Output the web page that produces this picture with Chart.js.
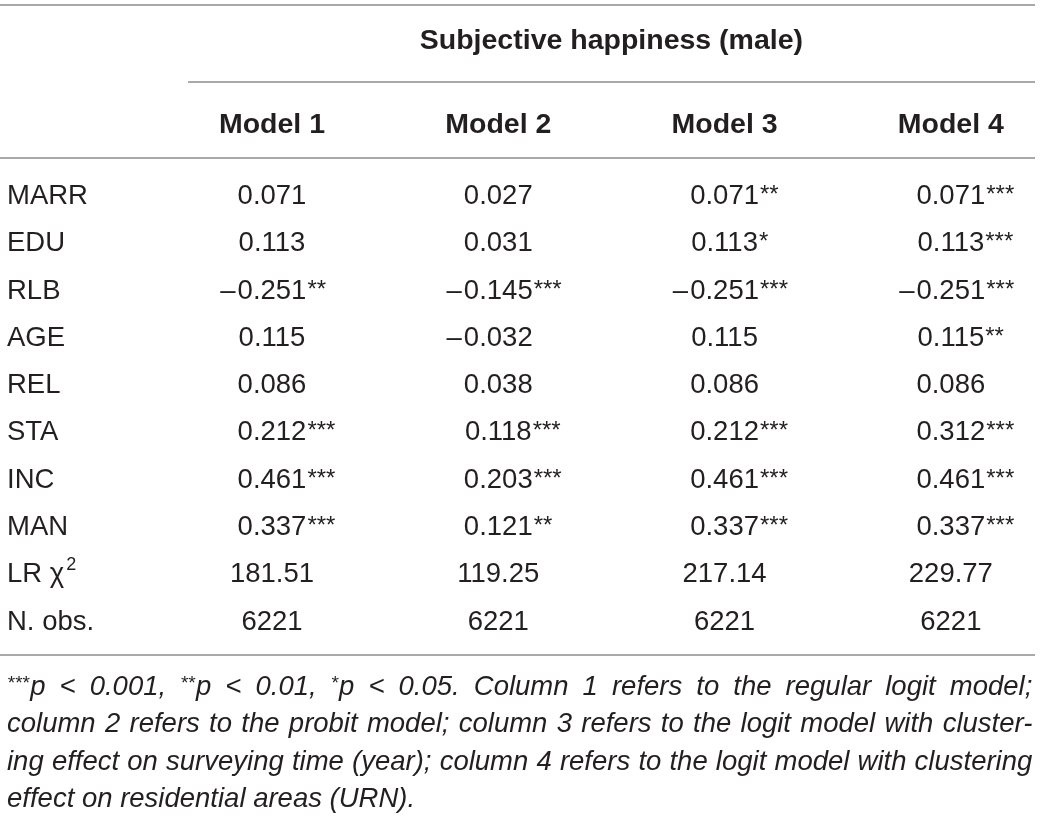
<!DOCTYPE html>
<html>
<head>
<meta charset="utf-8">
<script src="https://cdn.jsdelivr.net/npm/chart.js@4.4.0/dist/chart.umd.min.js"></script>
<style>
  html, body { margin: 0; padding: 0; background: #fff; }
  #wrap { width: 1040px; height: 816px; }
</style>
</head>
<body>
<div id="wrap"><canvas id="tabla"></canvas></div>
<script>
// Datos de la tabla
const title = 'Subjective happiness (male)';
const models = ['Model 1', 'Model 2', 'Model 3', 'Model 4'];
const variables = ['MARR', 'EDU', 'RLB', 'AGE', 'REL', 'STA', 'INC', 'MAN'];

const model1 = [0.071, 0.113, -0.251, 0.115, 0.086, 0.212, 0.461, 0.337];
const model2 = [0.027, 0.031, -0.145, -0.032, 0.038, 0.118, 0.203, 0.121];
const model3 = [0.071, 0.113, -0.251, 0.115, 0.086, 0.212, 0.461, 0.337];
const model4 = [0.071, 0.113, -0.251, 0.115, 0.086, 0.312, 0.461, 0.337];

// numero de asteriscos de significancia
const stars1 = [0, 0, 2, 0, 0, 3, 3, 3];
const stars2 = [0, 0, 3, 0, 0, 3, 3, 2];
const stars3 = [2, 1, 3, 0, 0, 3, 3, 3];
const stars4 = [3, 3, 3, 2, 0, 3, 3, 3];

const lrChi2 = [181.51, 119.25, 217.14, 229.77];
const nObs = [6221, 6221, 6221, 6221];

const footnote = [
  '***p < 0.001, **p < 0.01, *p < 0.05. Column 1 refers to the regular logit model;',
  'column 2 refers to the probit model; column 3 refers to the logit model with cluster-',
  'ing effect on surveying time (year); column 4 refers to the logit model with clustering',
  'effect on residential areas (URN).'
];

// Posiciones (unidades de fila / columna)
const labelX = -0.171;
const titleRow = -3.28, headRow = -1.5;
const ruleRows = [-4.207, -2.579, -0.972, 9.535];
const footRows = [10.38, 11.17, 11.97, 12.75];
const footRight = 4.36;

const FONT = '"Liberation Sans", Arial, Helvetica, sans-serif';
const INK = '#231f20';
const fBody = `27.5px ${FONT}`;
const fBold = `bold 28.5px ${FONT}`;
const fFoot = `italic 27.5px ${FONT}`;
const fFootStar = `italic 19px ${FONT}`;
const fSup = `18px ${FONT}`;
const fStar = `24px ${FONT}`;

function fmtCoef(v) { return Math.abs(v).toFixed(3); }

// Celdas
const labelCells = variables.map(v => ({ kind: 'label', text: v }));
labelCells.push({ kind: 'label', text: 'LR \u03c7', sup: '2' });
labelCells.push({ kind: 'label', text: 'N. obs.' });
const labelPts = labelCells.map((c, i) => ({ x: labelX, y: i }));

const coefs = [model1, model2, model3, model4];
const stars = [stars1, stars2, stars3, stars4];

const colDatasets = models.map((m, k) => {
  const cells = [{ kind: 'head', text: m }];
  const pts = [{ x: k + 1, y: headRow }];
  coefs[k].forEach((v, i) => {
    cells.push({ kind: 'coef', value: v, stars: stars[k][i] });
    pts.push({ x: k + 1, y: i });
  });
  cells.push({ kind: 'center', text: lrChi2[k].toFixed(2) });
  pts.push({ x: k + 1, y: variables.length });
  cells.push({ kind: 'center', text: String(nObs[k]) });
  pts.push({ x: k + 1, y: variables.length + 1 });
  return { data: pts, cells: cells, pointRadius: 0, showLine: false };
});

const ruleDatasets = ruleRows.map((r, i) => ({
  type: 'line',
  data: [{ x: i === 1 ? 0.629 : -0.202, y: r }, { x: 4.372, y: r }],
  borderColor: '#8c8c8c', borderWidth: 1.6, pointRadius: 0, fill: false
}));

const titleDs = { data: [{ x: 2.5, y: titleRow }], cells: [{ kind: 'title', text: title }], pointRadius: 0 };
const labelDs = { data: labelPts, cells: labelCells, pointRadius: 0 };
const footDs = {
  data: footRows.map(r => ({ x: labelX, y: r })),
  cells: footnote.map((t, i) => ({ kind: 'foot', text: t, justify: i < footnote.length - 1 })),
  pointRadius: 0
};

// Dibujo de textos
function drawFootLine(chart, ctx, x, y, cell) {
  const words = cell.text.split(' ');
  const parts = words.map(w => {
    const m = w.match(/^(\*+)(.*)$/);
    const st = m ? m[1] : '';
    const rest = m ? m[2] : w;
    ctx.font = fFootStar;
    const ws = st ? ctx.measureText(st).width + 1 : 0;
    ctx.font = fFoot;
    const wr = ctx.measureText(rest).width;
    return { st, rest, ws, w: ws + wr };
  });
  const total = parts.reduce((a, p) => a + p.w, 0);
  ctx.font = fFoot;
  let gap = ctx.measureText(' ').width;
  if (cell.justify) {
    const right = chart.scales.x.getPixelForValue(footRight);
    gap = (right - x - total) / (parts.length - 1);
  }
  let cx = x;
  ctx.textAlign = 'left';
  parts.forEach(p => {
    if (p.st) {
      ctx.font = fFootStar;
      ctx.fillText(p.st, cx, y - 6);
    }
    ctx.font = fFoot;
    ctx.fillText(p.rest, cx + p.ws, y);
    cx += p.w + gap;
  });
}

function drawCell(chart, ctx, x, y, c) {
  ctx.fillStyle = INK;
  ctx.textBaseline = 'alphabetic';
  if (c.kind === 'title' || c.kind === 'head') {
    ctx.font = fBold; ctx.textAlign = 'center';
    ctx.fillText(c.text, x, y);
  } else if (c.kind === 'label') {
    ctx.font = fBody; ctx.textAlign = 'left';
    ctx.fillText(c.text, x, y);
    if (c.sup) {
      const w = ctx.measureText(c.text).width;
      ctx.font = fSup;
      ctx.fillText(c.sup, x + w + 2, y - 12);
    }
  } else if (c.kind === 'center') {
    ctx.font = fBody; ctx.textAlign = 'center';
    ctx.fillText(c.text, x, y);
  } else if (c.kind === 'coef') {
    ctx.font = fBody;
    const txt = fmtCoef(c.value);
    const w = ctx.measureText(txt).width;
    const left = x - w / 2;
    ctx.textAlign = 'left';
    ctx.fillText(txt, left, y);
    if (c.value < 0) {
      ctx.textAlign = 'right';
      ctx.fillText('\u2013', left - 2, y);
    }
    if (c.stars) {
      ctx.textAlign = 'left';
      ctx.font = fStar;
      ctx.fillText('*'.repeat(c.stars), left + w + 1, y - 2);
    }
  } else if (c.kind === 'foot') {
    drawFootLine(chart, ctx, x, y, c);
  }
}

const cellText = {
  id: 'cellText',
  afterDatasetsDraw(chart) {
    const ctx = chart.ctx;
    ctx.save();
    chart.data.datasets.forEach((ds, di) => {
      if (!ds.cells) return;
      const meta = chart.getDatasetMeta(di);
      meta.data.forEach((pt, i) => drawCell(chart, ctx, pt.x, pt.y, ds.cells[i]));
    });
    ctx.restore();
  }
};

new Chart(document.getElementById('tabla'), {
  type: 'scatter',
  data: { datasets: [...ruleDatasets, titleDs, labelDs, ...colDatasets, footDs] },
  options: {
    responsive: true, maintainAspectRatio: false, animation: false,
    layout: { padding: 0 },
    plugins: { legend: { display: false }, tooltip: { enabled: false } },
    scales: {
      x: { type: 'linear', display: false, min: -0.202, max: 4.394 },
      y: { type: 'linear', display: false, reverse: true, min: -4.313, max: 12.939 }
    }
  },
  plugins: [cellText]
});
</script>
</body>
</html>
